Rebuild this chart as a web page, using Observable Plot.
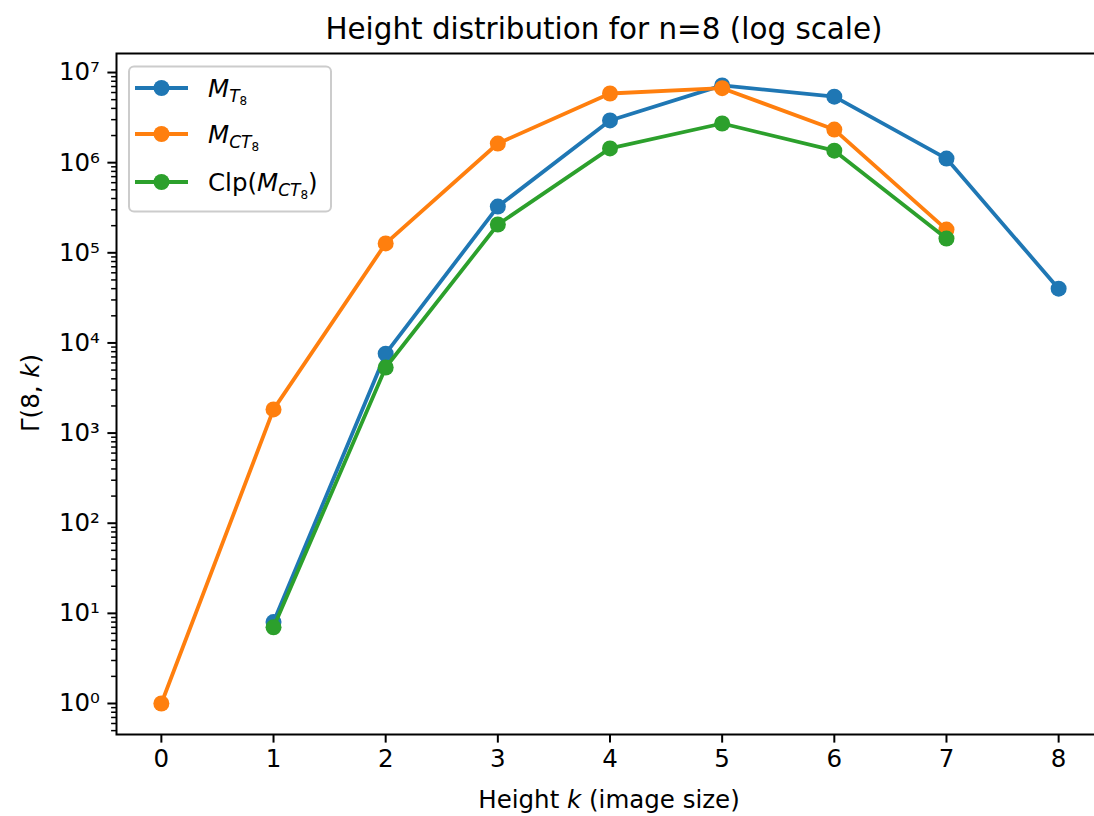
<!DOCTYPE html>
<html><head><meta charset="utf-8">
<script src="https://cdn.jsdelivr.net/npm/d3@7"></script>
<script src="https://cdn.jsdelivr.net/npm/@observablehq/plot@0.6"></script>
<style>
body{margin:0;background:#fff;overflow:hidden;}
svg{font-family:"DejaVu Sans",sans-serif;}
</style>
</head><body><div id="chart"></div>
<script>
// Data
const kMT = [1, 2, 3, 4, 5, 6, 7, 8];
const valMT = [8, 7600, 326000, 2.94e6, 7.2e6, 5.4e6, 1.11e6, 40000];
const kMCT = [0, 1, 2, 3, 4, 5, 6, 7];
const valMCT = [1, 1830, 127000, 1.63e6, 5.85e6, 6.7e6, 2.33e6, 181000];
const kClp = [1, 2, 3, 4, 5, 6, 7];
const valClp = [7, 5340, 206000, 1.44e6, 2.72e6, 1.36e6, 144000];
const seriesNames = ["MT8", "MCT8", "ClpMCT8"];
const seriesColors = ["#1f77b4", "#ff7f0e", "#2ca02c"];
const xTicks = [0, 1, 2, 3, 4, 5, 6, 7, 8];
const yTicks = [1, 10, 100, 1000, 1e4, 1e5, 1e6, 1e7];
const yTickLabels = ["10⁰", "10¹", "10²", "10³", "10⁴", "10⁵", "10⁶", "10⁷"];
const titleText = "Height distribution for n=8 (log scale)";

const series = [
  {name: seriesNames[0], color: seriesColors[0], rows: kMT.map((k, i) => ({k, v: valMT[i]}))},
  {name: seriesNames[1], color: seriesColors[1], rows: kMCT.map((k, i) => ({k, v: valMCT[i]}))},
  {name: seriesNames[2], color: seriesColors[2], rows: kClp.map((k, i) => ({k, v: valClp[i]}))}
];

const minorTicks = [];
for (let e = -1; e <= 7; e++) for (let m = 2; m <= 9; m++) {
  const t = m * Math.pow(10, e);
  if (t > 0.46 && t < 1.6e7) minorTicks.push(t);
}

const marks = [];
for (const s of series) {
  marks.push(Plot.lineY(s.rows, {x: "k", y: "v", stroke: s.color, strokeWidth: 3.8}));
  marks.push(Plot.dot(s.rows, {x: "k", y: "v", fill: s.color, r: 8, stroke: "none"}));
}

const plot = Plot.plot({
  width: 1094, height: 816,
  marginLeft: 116, marginRight: -9, marginTop: 53, marginBottom: 82,
  style: {fontSize: "24.5px", fontFamily: "DejaVu Sans, sans-serif", background: "#fff", overflow: "hidden"},
  x: {type: "linear", domain: [-0.4, 8.4]},
  y: {type: "log", domain: [0.453, 1.626e7]},
  marks: [
    Plot.axisY(minorTicks, {tickSize: 4.9, strokeWidth: 1.5, tickFormat: () => "", label: null}),
    Plot.axisY(yTicks, {tickSize: 8.6, strokeWidth: 2, tickPadding: 8, tickFormat: (d) => yTickLabels[yTicks.indexOf(d)], label: null, fill: "black"}),
    Plot.axisX(xTicks, {tickSize: 8.6, strokeWidth: 2, tickPadding: 6, tickFormat: (d) => String(d), label: null, fill: "black"}),
    ...marks,
    Plot.frame({stroke: "black", strokeWidth: 2})
  ]
});

document.getElementById("chart").appendChild(plot);
const svg = d3.select(plot);

// Title
svg.append("text").attr("x", 604).attr("y", 39).attr("text-anchor", "middle")
  .attr("font-size", 29.4).attr("fill", "black").text(titleText);

// X label
const xl = svg.append("text").attr("x", 609).attr("y", 808).attr("text-anchor", "middle")
  .attr("font-size", 24.5).attr("fill", "black");
xl.append("tspan").text("Height ");
xl.append("tspan").attr("font-style", "italic").text("k");
xl.append("tspan").text(" (image size)");

// Y label
const yl = svg.append("text").attr("transform", "translate(39,393) rotate(-90)")
  .attr("text-anchor", "middle").attr("font-size", 24.5).attr("fill", "black");
yl.append("tspan").text("Γ(8, ");
yl.append("tspan").attr("font-style", "italic").text("k");
yl.append("tspan").text(")");

// Legend
const lg = svg.append("g");
lg.append("rect").attr("x", 129).attr("y", 66.5).attr("width", 202).attr("height", 145)
  .attr("rx", 5).attr("fill", "white").attr("fill-opacity", 0.8)
  .attr("stroke", "#cccccc").attr("stroke-width", 2);
const rowsY = [88, 134, 182];
series.forEach((s, i) => {
  const y = rowsY[i];
  lg.append("line").attr("x1", 135).attr("x2", 188).attr("y1", y).attr("y2", y)
    .attr("stroke", s.color).attr("stroke-width", 3.8);
  lg.append("circle").attr("cx", 161.5).attr("cy", y).attr("r", 8).attr("fill", s.color);
  const t = lg.append("text").attr("x", 208).attr("y", y + 9).attr("text-anchor", "start")
    .attr("font-size", 24.5).attr("fill", "black");
  if (i === 2) t.append("tspan").text("Clp(");
  t.append("tspan").attr("font-style", "italic").text("M");
  t.append("tspan").attr("font-style", "italic").attr("font-size", 17).attr("dy", 5).text(i === 0 ? "T" : "CT");
  t.append("tspan").attr("font-size", 12).attr("dy", 2.5).text("8");
  if (i === 2) t.append("tspan").attr("dy", -7.5).text(")");
});
</script>
</body></html>
